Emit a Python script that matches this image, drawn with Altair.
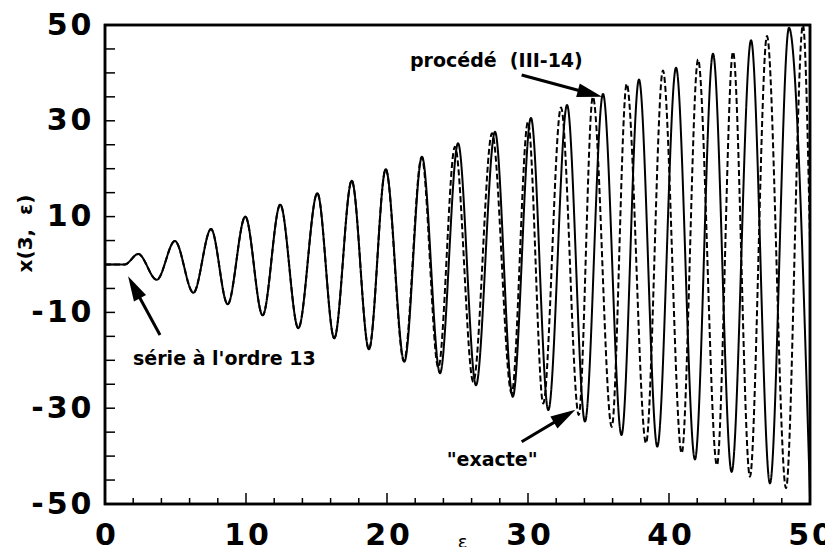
import altair as alt
import pandas as pd

# ---- data ----
solid_eps = [0, 1.4, 2.36, 3.67, 4.96, 6.27, 7.52, 8.70, 9.95, 11.18, 12.43, 13.71,
             15.06, 16.26, 17.5, 18.72, 19.91, 21.23, 22.48, 23.76, 25.04, 26.31,
             27.66, 28.92, 30.21, 31.44, 32.77, 34.04, 35.32, 36.63, 37.87, 39.17,
             40.5, 41.84, 43.12, 44.44, 45.82, 47.16, 48.51, 50.0]
solid_x = [0, 0, 2.2, -3.2, 4.9, -5.9, 7.4, -8.3, 10.0, -10.6, 12.5, -13.3,
           14.9, -15.4, 17.5, -17.7, 19.9, -20.3, 22.5, -22.7, 25.3, -25.2,
           27.7, -27.6, 30.6, -30.4, 33.3, -32.8, 35.6, -35.6, 38.6, -38.0,
           41.1, -40.7, 44.0, -43.3, 46.8, -45.7, 49.4, -48.5]

dashed_eps = [0, 1.4, 2.36, 3.67, 4.96, 6.27, 7.52, 8.70, 9.95, 11.18, 12.43, 13.71,
              15.06, 16.26, 17.5, 18.72, 19.91, 21.2, 22.46, 23.64, 24.82, 26.12,
              27.45, 28.84, 30.0, 31.08, 32.34, 33.6, 34.6, 35.94, 37.0, 38.37,
              39.57, 40.9, 42.06, 43.4, 44.54, 45.74, 46.95, 48.3, 49.5, 50.0]
dashed_x = [0, 0, 2.2, -3.2, 4.9, -5.9, 7.4, -8.3, 10.0, -10.6, 12.5, -13.3,
            14.9, -15.4, 17.5, -17.7, 19.9, -20.2, 22.4, -21.5, 24.6, -24.5,
            27.4, -26.9, 29.8, -29.0, 32.8, -31.4, 35.0, -33.9, 37.7, -37.3,
            40.5, -39.4, 42.8, -41.9, 44.4, -44.3, 47.7, -46.7, 50.0, 5.0]

x_label_values = [0, 10, 20, 30, 40, 50]
y_label_values = [-50, -30, -10, 10, 30, 50]
y_tick_values = [-45, -40, -35, -30, -25, -20, -15, -10, -5, 0, 5, 10, 15, 20,
                 25, 30, 35, 40, 45]
x_minor_ticks = [2, 4, 6, 8, 12, 14, 16, 18, 22, 24, 26, 28, 32, 34, 36, 38,
                 42, 44, 46, 48]
x_major_ticks = [10, 20, 30, 40]
# frame corners (domain limits), walked in order
frame_eps = [0, 50, 50, 0, 0]
frame_val = [-50, -50, 50, 50, -50]

ann_labels = ["procédé\u00a0\u00a0(III-14)", "série à l'ordre 13", "\"exacte\""]
ann_eps = [21.63, 1.99, 24.23]
ann_val = [41.2, -21.0, -42.0]
arrow_from_eps = [29.55, 3.9, 29.55]
arrow_from_val = [39.56, -14.7, -37.0]
arrow_head_eps = [34.4, 2.06, 32.6]
arrow_head_val = [35.7, -4.74, -31.65]
arrow_angle = [105, 331.5, 59.3]

# ---- tables ----
lines = pd.concat([
    pd.DataFrame({"eps": solid_eps, "val": solid_x, "s": "procédé"}),
    pd.DataFrame({"eps": dashed_eps, "val": dashed_x, "s": "exacte"}),
])
ann = pd.DataFrame({"eps": ann_eps, "val": ann_val, "label": ann_labels})
arrows = pd.DataFrame({"eps": arrow_from_eps, "val": arrow_from_val,
                       "eps2": arrow_head_eps, "val2": arrow_head_val,
                       "ang": arrow_angle})
yt = pd.DataFrame({"val": y_tick_values})
xtm = pd.DataFrame({"eps": x_minor_ticks})
xtM = pd.DataFrame({"eps": x_major_ticks})
frame = pd.DataFrame({"eps": frame_eps, "val": frame_val,
                      "k": list(range(len(frame_eps)))})

W, H = 705, 479
FONT = "DejaVu Sans"
label_expr = ("(datum.value < 0 ? '-\u200a' : '') + "
              "join(split(toString(abs(datum.value)), ''), '\u200a')")

xscale = alt.Scale(domain=[0, 50], nice=False, zero=False)
yscale = alt.Scale(domain=[-50, 50], nice=False, zero=False)
xaxis = alt.Axis(values=x_label_values, tickSize=0, domain=False, grid=False,
                 labelExpr=label_expr, labelFont=FONT,
                 labelFontWeight="bold", labelFontSize=30, labelColor="black",
                 labelPadding=16, labelFlush=False, labelOverlap=False,
                 title="ε", titleFont=FONT, titleFontSize=18,
                 titleFontWeight="normal", titleColor="black",
                 titleX=357, titleY=43, titleBaseline="alphabetic")
yaxis = alt.Axis(values=y_label_values, tickSize=0, domain=False, grid=False,
                 labelExpr=label_expr, labelFont=FONT,
                 labelFontWeight="bold", labelFontSize=30, labelColor="black",
                 labelPadding=14, labelFlush=False, labelOverlap=False,
                 title="x(3,\u00a0\u00a0ε)", titleFont=FONT, titleFontSize=20,
                 titleFontWeight="bold", titleColor="black",
                 titleX=-70, titleY=208)

X = alt.X("eps:Q", scale=xscale, axis=xaxis)
Y = alt.Y("val:Q", scale=yscale, axis=yaxis)

frame_line = alt.Chart(frame).mark_line(color="black", strokeWidth=2.5,
                                        strokeCap="square").encode(
    x=X, y=Y, order="k:Q")

curves = alt.Chart(lines).mark_line(interpolate="monotone", color="black",
                                    strokeWidth=2).encode(
    x=X, y=Y,
    strokeDash=alt.StrokeDash("s:N", scale=alt.Scale(domain=["procédé", "exacte"],
                                                      range=[[1, 0], [6, 3]]),
                              legend=None),
    detail="s:N",
)

ytick = alt.Chart(yt).mark_rule(color="black", strokeWidth=1.5).encode(
    y=Y, x=alt.value(0), x2=alt.value(10))
xtick_minor = alt.Chart(xtm).mark_rule(color="black", strokeWidth=1.5).encode(
    x=X, y=alt.value(H), y2=alt.value(H - 6))
xtick_major = alt.Chart(xtM).mark_rule(color="black", strokeWidth=1.5).encode(
    x=X, y=alt.value(H), y2=alt.value(H - 11))

texts = alt.Chart(ann).mark_text(align="left", baseline="alphabetic",
                                 font=FONT, fontWeight="bold",
                                 fontSize=19, color="black").encode(
    x=X, y=Y, text="label:N")

shafts = alt.Chart(arrows).mark_rule(color="black", strokeWidth=3).encode(
    x=X, y=Y, x2="eps2:Q", y2="val2:Q")

heads = alt.Chart(arrows).mark_point(shape="M0,-1L0.55,1L-0.55,1Z", filled=True,
                                     color="black", opacity=1, size=625).encode(
    x=alt.X("eps2:Q", scale=xscale, axis=xaxis),
    y=alt.Y("val2:Q", scale=yscale, axis=yaxis),
    angle=alt.Angle("ang:Q", scale=None),
)

chart = alt.layer(frame_line, curves, ytick, xtick_minor, xtick_major,
                  shafts, heads, texts).properties(
    width=W, height=H,
    padding={"left": 97, "top": 17, "right": 15, "bottom": 43},
    autosize=alt.AutoSizeParams(type="none"),
    background="white",
).configure_view(stroke="#000000", strokeWidth=2.5, strokeOpacity=1)

chart.save("out.html", embed_options={"renderer": "svg", "actions": False})
